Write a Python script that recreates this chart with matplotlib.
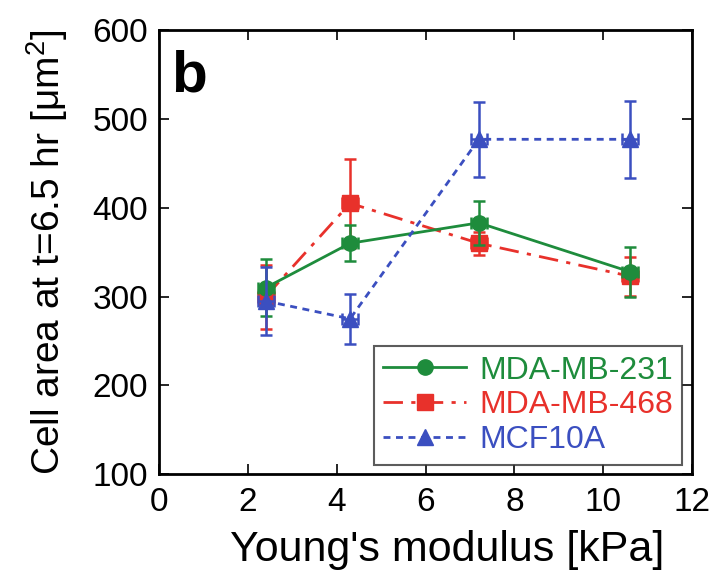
import matplotlib.pyplot as plt
import numpy as np

plt.rcParams['font.family'] = ['Liberation Sans', 'DejaVu Sans']

# data
x = [2.4, 4.3, 7.2, 10.6]
xerr = [0.18, 0.18, 0.18, 0.18]

mda231 = [310, 360, 383, 328]
mda231_err = [32, 20, 25, 28]
mda468 = [300, 405, 360, 323]
mda468_err = [36, 50, 13, 22]
mcf10a = [295, 275, 477, 477]
mcf10a_err = [38, 28, 42, 43]

green = '#1e8c3c'
red = '#e8312b'
blue = '#3b4fc0'

fig = plt.figure(figsize=(7.17, 5.77), dpi=100)
ax = fig.add_axes([0.222, 0.178, 0.743, 0.77])

series = [
    (mda231, mda231_err, green, 'o', '-', 'MDA-MB-231', 3),
    (mda468, mda468_err, red, 's', (0, (7, 3, 1.5, 3)), 'MDA-MB-468', 2),
    (mcf10a, mcf10a_err, blue, '^', (0, (2.5, 2)), 'MCF10A', 4),
]
handles = []
for y, e, c, m, ls, lab, z in series:
    ax.errorbar(x, y, yerr=e, xerr=xerr, fmt='none', ecolor=c, capsize=4.5,
                elinewidth=1.8, capthick=1.8, zorder=z)
    h, = ax.plot(x, y, color=c, marker=m, ms=11, lw=2, ls=ls, label=lab, zorder=z)
    handles.append(h)

ax.set_xlim(0, 12)
ax.set_ylim(100, 600)
ax.set_xticks([0, 2, 4, 6, 8, 10, 12])
ax.set_yticks([100, 200, 300, 400, 500, 600])
ax.tick_params(direction='in', top=True, right=True, labelsize=24, length=7, width=1.2)
ax.tick_params(axis='x', pad=9)
ax.tick_params(axis='y', pad=8)
for s in ax.spines.values():
    s.set_linewidth(2)

ax.set_xlabel("Young's modulus [kPa]", fontsize=31, labelpad=9)
ax.xaxis.label.set_x(0.54)
ax.set_ylabel(r'Cell area at t=6.5 hr [$\mathregular{\mu m^2}$]', fontsize=28, labelpad=16)
ax.text(0.022, 0.955, 'b', transform=ax.transAxes, fontsize=42, fontweight='bold', va='top')

leg = ax.legend(handles=handles, loc='lower right', fontsize=23, frameon=True, fancybox=False,
                edgecolor='#333333', handlelength=2.6, handletextpad=0.4,
                borderaxespad=0.3, labelspacing=0.15, borderpad=0.3)
leg.get_frame().set_linewidth(1.5)
for t, c in zip(leg.get_texts(), [green, red, blue]):
    t.set_color(c)

fig.savefig('out.png', dpi=100)
